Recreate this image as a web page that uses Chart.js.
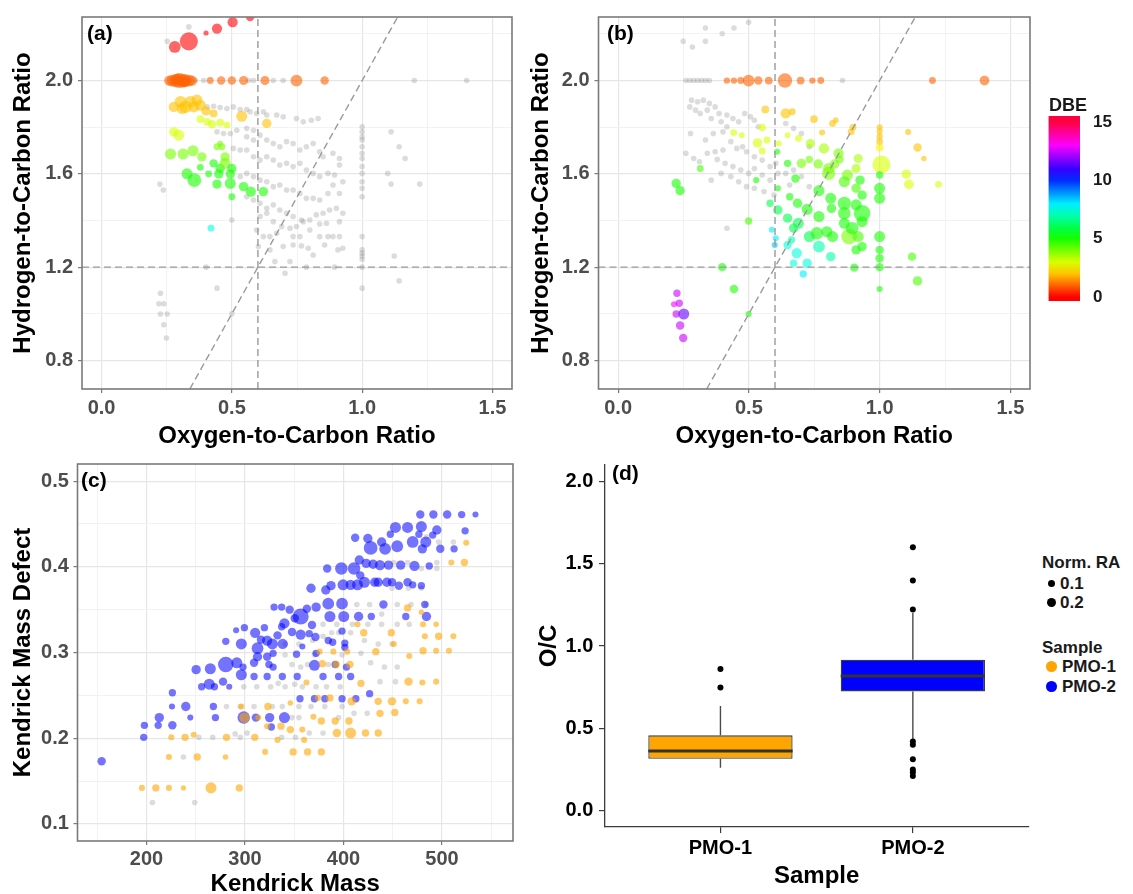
<!DOCTYPE html>
<html>
<head>
<meta charset="utf-8">
<title>Van Krevelen, Kendrick and O/C plots</title>
<script src="https://cdn.jsdelivr.net/npm/chart.js@4.4.1/dist/chart.umd.min.js"></script>
<style>
  html, body { margin: 0; padding: 0; background: #fff; }
  #wrap { position: relative; width: 1133px; height: 894px; overflow: hidden; font-family: "Liberation Sans", Arial, sans-serif; }
  canvas { position: absolute; }
  .tag { position: absolute; font-weight: bold; font-size: 21px; line-height: 1; color: #000; }
  .lg { position: absolute; font-weight: bold; font-size: 17px; line-height: 1; color: #1a1a1a; white-space: nowrap; }
  .key { position: absolute; border-radius: 50%; }
</style>
</head>
<body>
<div id="wrap">
  <canvas id="cA" width="525" height="455" style="left:0;top:0;width:525px;height:455px"></canvas>
  <canvas id="cB" width="520" height="455" style="left:520px;top:0;width:520px;height:455px"></canvas>
  <canvas id="cBar" width="80" height="230" style="left:1040px;top:90px;width:80px;height:230px"></canvas>
  <canvas id="cC" width="525" height="460" style="left:0;top:445px;width:525px;height:460px"></canvas>
  <canvas id="cD" width="515" height="460" style="left:525px;top:445px;width:515px;height:460px"></canvas>

  <div class="tag" style="left:87px;top:22px">(a)</div>
  <div class="tag" style="left:607px;top:22px">(b)</div>
  <div class="tag" style="left:81px;top:469px">(c)</div>
  <div class="tag" style="left:612px;top:462px">(d)</div>

  <div class="lg" style="left:1049px;top:96px;font-size:18px">DBE</div>

  <div class="lg" style="left:1042px;top:554px">Norm. RA</div>
  <div class="key" style="left:1048px;top:579.6px;width:7.4px;height:7.4px;background:#000"></div>
  <div class="lg" style="left:1060px;top:575px">0.1</div>
  <div class="key" style="left:1047px;top:598px;width:9.4px;height:9.4px;background:#000"></div>
  <div class="lg" style="left:1060px;top:594.4px">0.2</div>
  <div class="lg" style="left:1042px;top:639px">Sample</div>
  <div class="key" style="left:1046.4px;top:661.4px;width:10.6px;height:10.6px;background:#FFA500"></div>
  <div class="lg" style="left:1062px;top:658.4px">PMO-1</div>
  <div class="key" style="left:1046.4px;top:681.4px;width:10.6px;height:10.6px;background:#0000FF"></div>
  <div class="lg" style="left:1062px;top:678.4px">PMO-2</div>
</div>

<script>
// ---------------- data ----------------
// Van Krevelen axes
const ocLimits = [-0.075, 1.575];
const hcLimits = [0.6775, 2.2725];
const ocMajor = [0, 0.5, 1.0, 1.5];
const ocMinor = [0.25, 0.75, 1.25];
const hcMajor = [0.8, 1.2, 1.6, 2.0];
const hcMinor = [1.0, 1.4, 1.8, 2.2];
// reference lines: O/C = 0.6, H/C = 1.2, H/C = 2 * O/C
const refOC = 0.6;
const refHC = 1.2;
const refSlope = 2;

// PMO-1 formulas: [O/C, H/C, DBE, normalised relative abundance]
const pmo1Formulas = [
  [0.57,2.272,0,0.15],[0.335,2.168,0,0.9],[0.281,2.144,0,0.35],[0.401,2.204,0,0.02],[0.443,2.223,0,0.25],[0.503,2.25,0,0.25],
  [0.26,2.0,1,0.25],[0.272,2.0,1,0.35],[0.285,2.0,1,0.45],[0.298,2.0,1,0.6],[0.31,2.0,1,0.5],[0.322,2.0,1,0.4],[0.335,2.0,1,0.35],[0.347,2.0,1,0.25],[0.292,2.005,1,0.3],[0.318,1.995,1,0.3],
  [0.417,2.0,1,0.08],[0.459,2.0,1,0.15],[0.5,2.0,1,0.15],[0.545,2.0,1,0.18],[0.627,2.0,1,0.18],[0.748,2.0,1,0.35],[0.856,2.0,1,0.15],
  [0.277,1.887,2,0.25],[0.303,1.909,2,0.35],[0.322,1.887,2,0.4],[0.341,1.909,2,0.35],[0.366,1.916,2,0.3],[0.379,1.894,2,0.3],[0.354,1.887,2,0.3],[0.309,1.88,2,0.3],[0.401,1.87,2,0.2],[0.43,1.859,2,0.12],[0.538,1.847,2,0.3],[0.634,1.816,2,0.2],
  [0.379,1.835,3,0.12],[0.405,1.823,3,0.12],[0.424,1.813,3,0.15],[0.455,1.819,3,0.12],[0.481,1.809,3,0.08],[0.277,1.78,3,0.2],[0.296,1.766,3,0.3],
  [0.265,1.685,4,0.3],[0.313,1.685,4,0.3],[0.351,1.699,4,0.3],[0.385,1.673,4,0.2],[0.443,1.716,4,0.08],[0.462,1.716,4,0.08],[0.455,1.73,4,0.04],[0.474,1.673,4,0.2],
  [0.43,1.645,5,0.15],[0.455,1.623,5,0.2],[0.474,1.645,4,0.3],[0.5,1.623,5,0.2],[0.328,1.6,5,0.3],[0.356,1.573,5,0.5],[0.411,1.6,5,0.08],[0.45,1.6,5,0.2],[0.494,1.6,5,0.2],
  [0.443,1.556,5,0.2],[0.494,1.559,5,0.3],[0.545,1.545,5,0.2],[0.573,1.524,5,0.25],[0.621,1.524,5,0.2],[0.5,1.502,5,0.08],[0.379,1.628,5,0.08],
  [0.42,1.367,7.5,0.08]
];
// PMO-2 formulas shown as background in the PMO-1 plot: [O/C, H/C]
const pmo2Background = [
  [0.36,2],[0.392,2],[0.564,2],[0.583,2],[0.659,2],[0.697,2],[1.2,2],[1.401,2],[0.335,2.23],[0.252,2.168],
  [0.405,1.887],[0.43,1.89],[0.455,1.884],[0.481,1.88],[0.506,1.887],[0.532,1.876],[0.557,1.876],[0.57,1.866],[0.595,1.859],[0.621,1.866],[0.634,1.852],[0.672,1.852],[0.697,1.845],[0.748,1.837],[0.774,1.823],[0.805,1.83],[0.831,1.837],
  [0.443,1.78],[0.468,1.773],[0.494,1.773],[0.519,1.787],[0.557,1.795],[0.583,1.787],[0.557,1.759],[0.583,1.745],[0.608,1.766],[0.634,1.745],[0.659,1.73],[0.684,1.716],[0.71,1.738],[0.735,1.73],[0.761,1.702],[0.786,1.716],[0.812,1.73],[0.837,1.695],[0.85,1.673],[0.888,1.688],[0.913,1.666],
  [0.506,1.709],[0.532,1.702],[0.557,1.702],[0.583,1.673],[0.608,1.659],[0.634,1.673],[0.659,1.659],[0.684,1.638],[0.71,1.645],[0.735,1.631],[0.761,1.645],[0.786,1.616],[0.812,1.602],[0.837,1.588],[0.869,1.602],[0.894,1.595],[0.913,1.638],[0.926,1.566],
  [0.532,1.588],[0.557,1.602],[0.583,1.588],[0.608,1.573],[0.634,1.566],[0.659,1.545],[0.684,1.552],[0.71,1.531],[0.735,1.531],[0.761,1.516],[0.786,1.495],[0.812,1.495],[0.837,1.488],[0.869,1.516],[0.888,1.552],[0.913,1.516],
  [0.557,1.502],[0.583,1.488],[0.608,1.474],[0.634,1.452],[0.659,1.467],[0.684,1.445],[0.71,1.431],[0.735,1.417],[0.767,1.402],[0.799,1.402],[0.824,1.424],[0.85,1.431],[0.875,1.445],[0.901,1.452],[0.926,1.431],[0.913,1.395],
  [0.608,1.417],[0.634,1.431],[0.659,1.395],[0.691,1.374],[0.723,1.367],[0.748,1.374],[0.774,1.395],[0.799,1.359],[0.837,1.385],[0.863,1.388],
  [0.595,1.359],[0.621,1.331],[0.646,1.331],[0.672,1.345],[0.735,1.331],[0.761,1.331],[0.837,1.331],[0.869,1.331],[0.888,1.331],[0.913,1.331],
  [0.602,1.288],[0.646,1.274],[0.697,1.288],[0.735,1.295],[0.767,1.291],[0.793,1.281],[0.812,1.252],[0.856,1.295],[0.907,1.274],[0.926,1.281],
  [0.665,1.224],[0.723,1.224],[0.704,1.174],[0.786,1.2],[0.894,1.2],
  [1,1.802],[1,1.78],[1,1.759],[1,1.745],[1,1.716],[1,1.688],[1,1.666],[1,1.631],[1,1.602],[1,1.566],[1,1.538],[1,1.502],[1,1.331],[1,1.274],[1,1.26],[1,1.248],[1,1.234],[1,1.2],[1,1.11],
  [1.111,1.78],[1.142,1.716],[1.165,1.666],[1.098,1.602],[1.111,1.556],[1.221,1.556],[1.123,1.248],[1.142,1.141],
  [0.224,1.556],[0.237,1.531],[0.226,1.088],[0.22,1.043],[0.239,1.043],[0.226,0.999],[0.252,0.999],[0.239,0.953],[0.249,0.896],
  [0.401,1.2],[0.443,1.11],[0.5,1.0],[0.5,1.402]
];

// PMO-2 formulas: [O/C, H/C, DBE, normalised relative abundance]
const pmo2Formulas = [
  [0.416,2,1,0.06],[0.443,2,1,0.06],[0.469,2,1,0.08],[0.499,2,1,0.35],[0.536,2,1,0.15],[0.576,2,1,0.12],[0.638,2,1,0.55],[0.698,2,1,0.12],[0.743,2,1,0.06],[0.775,2,1,0.08],[1.202,2,1,0.08],[1.401,2,1,0.22],
  [0.563,1.876,2,0.12],[0.641,1.859,2,0.25],[0.666,1.866,2,0.08],[0.749,1.835,2,0.12],[0.82,1.816,2,0.08],[0.832,1.83,2,0.04],[0.898,1.799,2,0.08],[0.891,1.78,2,0.08],[0.78,1.777,2,0.05],
  [1,1.8,2,0.05],[1,1.782,2,0.05],[1,1.76,2,0.06],[1,1.738,2,0.08],[1,1.713,2.5,0.12],[1.109,1.779,2,0.05],[1.145,1.713,2,0.15],[1.169,1.666,2,0.03],
  [0.551,1.799,3,0.1],[0.442,1.777,3,0.08],[0.473,1.766,3,0.04],[0.533,1.733,3,0.2],[0.569,1.745,3,0.08],[0.551,1.698,3,0.08],[0.614,1.73,3,0.05],[0.648,1.766,3,0.04],[0.69,1.752,3,0.08],
  [0.735,1.73,3.5,0.18],[0.787,1.709,3.5,0.25],[0.843,1.688,4,0.25],[0.918,1.666,3.5,0.18],[1.007,1.64,3,0.9],[1.102,1.599,3,0.2],[1.112,1.555,3,0.22],[1.225,1.555,3,0.08],[0.314,1.623,4.5,0.08],[0.91,1.623,3.5,0.18],
  [0.222,1.559,5,0.2],[0.237,1.528,5,0.2],
  [0.608,1.695,5,0.05],[0.611,1.538,5,0.05],[0.648,1.645,5,0.1],[0.678,1.58,5,0.15],[0.701,1.645,4,0.2],[0.731,1.662,4,0.1],[0.765,1.642,4,0.2],[0.805,1.602,4,0.45],[0.805,1.623,4,0.3],[0.828,1.642,4,0.2],[0.847,1.662,4,0.15],
  [0.877,1.595,4,0.3],[0.865,1.566,4.5,0.3],[0.91,1.538,4.5,0.2],[0.925,1.573,5,0.2],[0.933,1.509,5,0.2],[1,1.538,5,0.3],[1,1.495,5,0.3],[1,1.595,5,0.1],
  [0.768,1.528,5,0.3],[0.813,1.495,5,0.3],[0.865,1.474,5,0.45],[0.91,1.467,5,0.3],[0.933,1.431,5,0.75],[0.865,1.431,5,0.4],[0.816,1.452,5,0.2],[0.768,1.417,5,0.3],[0.723,1.448,5,0.3],[0.686,1.474,5,0.2],[0.656,1.502,5,0.1],
  [0.581,1.474,6,0.1],[0.611,1.445,6,0.2],[0.648,1.41,6,0.2],[0.689,1.388,6,0.3],[0.671,1.367,6,0.2],[0.731,1.331,6,0.3],[0.76,1.345,5,0.4],[0.798,1.352,5,0.3],[0.82,1.331,5,0.3],[0.883,1.331,4,0.65],[0.918,1.331,4.5,0.3],
  [0.865,1.388,5,0.3],[0.895,1.367,5,0.4],[0.933,1.395,5,0.3],[1,1.331,5,0.3],[1,1.274,5,0.15],[1,1.238,5,0.15],[1,1.2,5,0.15],[0.903,1.198,5,0.15],[0.91,1.274,5,0.2],[0.933,1.288,5,0.2],
  [1.124,1.245,4.5,0.15],[1.145,1.141,4.5,0.2],[1,1.106,5,0.05],[0.499,1.398,4.5,0.1],[0.398,1.2,5,0.15],[0.443,1.106,5,0.15],[0.499,0.999,5,0.05],[0.528,1.573,5,0.05],
  [0.588,1.36,8,0.05],[0.599,1.295,8.5,0.05],[0.648,1.295,7.5,0.15],[0.663,1.317,7,0.1],[0.683,1.26,7.5,0.25],[0.723,1.217,7.5,0.2],[0.708,1.171,8,0.1],[0.671,1.217,7.5,0.1],[0.768,1.288,7,0.35],[0.813,1.245,7,0.2],[0.603,1.324,8,0.05],
  [0.225,1.088,12.5,0.1],[0.214,1.041,13,0.05],[0.234,1.045,12.5,0.1],[0.222,0.999,12.5,0.1],[0.251,0.999,11.5,0.3],[0.237,0.95,12.5,0.15],[0.249,0.896,12.5,0.15]
];
// PMO-1 formulas shown as background in the PMO-2 plot: [O/C, H/C]
const pmo1Background = [
  [0.334,2.225],[0.398,2.201],[0.443,2.225],[0.499,2.25],[0.249,2.168],[0.284,2.144],[0.334,2.168],
  [0.259,2],[0.274,2],[0.289,2],[0.304,2],[0.319,2],[0.334,2],[0.349,2],[0.858,2],
  [0.281,1.916],[0.304,1.909],[0.326,1.916],[0.349,1.902],[0.371,1.887],[0.274,1.887],[0.296,1.873],[0.341,1.873],[0.314,1.859],[0.356,1.837],[0.386,1.859],[0.394,1.823],[0.416,1.852],[0.416,1.802],[0.439,1.837],[0.461,1.823],[0.484,1.859],[0.506,1.845],[0.521,1.83],[0.536,1.802],
  [0.277,1.773],[0.334,1.745],[0.364,1.773],[0.401,1.78],[0.431,1.738],[0.454,1.709],[0.476,1.716],[0.491,1.695],[0.521,1.673],[0.551,1.659],[0.581,1.631],[0.603,1.645],[0.641,1.602],[0.671,1.616],[0.701,1.588],[0.731,1.545],
  [0.259,1.688],[0.289,1.666],[0.311,1.652],[0.341,1.688],[0.371,1.695],[0.401,1.702],[0.379,1.662],[0.409,1.645],[0.439,1.631],[0.469,1.616],[0.499,1.602],[0.521,1.623],[0.551,1.595],[0.581,1.573],[0.611,1.602],
  [0.356,1.573],[0.394,1.602],[0.431,1.588],[0.461,1.566],[0.491,1.545],[0.521,1.538],[0.558,1.524],[0.596,1.509],[0.656,1.552],
  [0.416,1.367],[0.641,1.816],[0.671,1.795],[0.701,1.773],[0.731,1.716]
];

// DBE colour bar
const dbeLimits = [-0.34, 15.51];
const dbeTicks = [0, 5, 10, 15];

// Kendrick plot
const kmLimits = [130, 572];
const kmdLimits = [0.08, 0.52];
const kmMajor = [200, 300, 400, 500];
const kmMinor = [150, 250, 350, 450, 550];
const kmdMajor = [0.1, 0.2, 0.3, 0.4, 0.5];
const kmdMinor = [0.15, 0.25, 0.35, 0.45];
// [Kendrick mass, Kendrick mass defect, normalised relative abundance]
const kendrickPmo2 = [
  [154.5,0.173,0.15],[197.2,0.201,0.1],[197.9,0.215,0.1],[211.9,0.215,0.1],[213.0,0.224,0.2],[226.3,0.215,0.15],[225.9,0.237,0.05],[226.3,0.253,0.1],[239.9,0.237,0.2],[244.5,0.224,0.05],
  [250.4,0.280,0.2],[256.0,0.260,0.1],[263.7,0.263,0.3],[264.8,0.281,0.3],[269.0,0.260,0.1],[267.9,0.237,0.1],[270.0,0.224,0.1],[277.7,0.266,0.15],[280.5,0.313,0.1],[280.5,0.286,0.65],
  [284.0,0.260,0.05],[291.0,0.326,0.05],[291.7,0.288,0.3],[296.3,0.310,0.3],[296.3,0.274,0.3],[298.0,0.283,0.1],[298.7,0.224,0.4],[299.4,0.329,0.1],[309.2,0.272,0.1],[309.2,0.288,0.15],
  [310.3,0.323,0.25],[311.0,0.224,0.15],[312.7,0.305,0.35],[312.7,0.295,0.2],[316.2,0.315,0.15],[319.7,0.329,0.1],[322.5,0.314,0.25],[322.5,0.295,0.15],[322.5,0.272,0.1],[324.3,0.286,0.1],
  [325.0,0.224,0.2],[326.7,0.213,0.1],[327.8,0.310,0.3],[328.5,0.299,0.1],[328.5,0.283,0.1],[329.5,0.353,0.1],[333.0,0.320,0.15],[337.2,0.353,0.1],[337.2,0.330,0.1],[337.9,0.272,0.1],
  [338.3,0.310,0.25],[340.0,0.224,0.3],[340.0,0.334,0.25],[345.3,0.350,0.15],[347.7,0.324,0.15],[350.5,0.340,0.15],[352.3,0.298,0.1],[353.0,0.272,0.1],[355.8,0.246,0.1],[356.5,0.342,0.7],
  [356.5,0.321,0.25],[358.2,0.307,0.05],[362.8,0.351,0.15],[365.2,0.322,0.1],[367.0,0.375,0.2],[368.0,0.332,0.15],[370.5,0.285,0.3],[370.5,0.246,0.1],[371.5,0.318,0.15],[372.2,0.353,0.2],
  [372.2,0.299,0.1],[379.2,0.272,0.1],[381.0,0.246,0.1],[382.0,0.373,0.2],[383.4,0.398,0.15],[384.5,0.357,0.35],[384.5,0.314,0.1],[386.2,0.342,0.3],[387.3,0.378,0.2],[389.0,0.312,0.1],
  [391.5,0.286,0.1],[395.0,0.272,0.1],[397.8,0.398,0.4],[398.5,0.357,0.35],[398.5,0.325,0.1],[398.5,0.246,0.1],[399.5,0.379,0.3],[400.2,0.342,0.3],[401.3,0.311,0.1],[401.3,0.306,0.1],
  [403.0,0.283,0.1],[407.2,0.272,0.1],[407.2,0.379,0.25],[410.7,0.398,0.4],[411.8,0.434,0.15],[412.5,0.246,0.1],[415.3,0.342,0.2],[414.2,0.379,0.3],[416.0,0.408,0.2],[417.0,0.390,0.15],
  [421.2,0.382,0.3],[423.0,0.404,0.2],[424.7,0.433,0.2],[426.5,0.252,0.1],[427.5,0.422,0.5],[428.2,0.342,0.1],[430.0,0.403,0.2],[431.7,0.382,0.2],[435.2,0.382,0.2],[437.0,0.402,0.25],
  [440.5,0.356,0.15],[438.7,0.429,0.2],[442.2,0.421,0.35],[444.0,0.382,0.2],[445.7,0.402,0.2],[447.5,0.438,0.1],[449.2,0.382,0.15],[452.7,0.446,0.3],[454.5,0.424,0.35],[456.2,0.378,0.15],
  [458.0,0.402,0.2],[463.2,0.342,0.1],[465.0,0.382,0.15],[465.0,0.446,0.3],[470.2,0.429,0.35],[470.2,0.379,0.1],[472.0,0.401,0.25],[476.5,0.438,0.1],[479.0,0.447,0.3],[479.0,0.378,0.1],
  [480.0,0.421,0.2],[482.5,0.356,0.1],[483.5,0.429,0.3],[484.2,0.342,0.2],[487.0,0.401,0.1],[490.5,0.437,0.1],[491.2,0.461,0.15],[494.7,0.443,0.2],[498.2,0.421,0.15],[505.2,0.461,0.15],
  [512.2,0.421,0.1],[519.9,0.461,0.1],[523.4,0.442,0.1],[533.9,0.461,0.05],[477.9,0.461,0.15]
];
const kendrickPmo1 = [
  [195.4,0.142,0.05],[209.5,0.142,0.1],[222.8,0.142,0.05],[237.5,0.142,0.02],[265.5,0.142,0.3],[294.2,0.142,0.1],[222.8,0.178,0.05],[251.5,0.178,0.1],[280.2,0.178,0.03],[225.2,0.201,0.05],
  [239.2,0.201,0.1],[248.0,0.204,0.05],[281.2,0.201,0.1],[296.3,0.237,0.05],[299.4,0.224,0.25],[309.9,0.201,0.1],[313.4,0.224,0.05],[320.4,0.184,0.05],[323.2,0.237,0.1],[322.5,0.214,0.05],
  [333.0,0.198,0.05],[336.5,0.214,0.1],[346.0,0.241,0.03],[346.0,0.210,0.1],[348.8,0.184,0.1],[358.2,0.210,0.05],[360.0,0.198,0.05],[362.4,0.265,0.05],[363.5,0.184,0.1],[369.4,0.225,0.05],
  [374.0,0.247,0.05],[375.7,0.301,0.05],[377.5,0.220,0.1],[377.5,0.184,0.1],[378.5,0.287,0.1],[386.2,0.247,0.1],[389.7,0.301,0.05],[391.5,0.220,0.1],[392.5,0.286,0.1],[393.2,0.206,0.15],
  [403.7,0.301,0.05],[405.5,0.220,0.1],[406.5,0.286,0.1],[407.2,0.206,0.3],[408.3,0.243,0.15],[414.2,0.333,0.05],[417.7,0.264,0.1],[420.5,0.323,0.1],[422.3,0.206,0.1],[432.8,0.301,0.1],
  [435.2,0.243,0.1],[435.2,0.206,0.1],[437.0,0.229,0.1],[448.5,0.323,0.1],[449.2,0.243,0.15],[451.0,0.310,0.05],[452.0,0.230,0.1],[463.2,0.243,0.05],[465.0,0.352,0.1],[466.0,0.266,0.15],
  [466.7,0.296,0.05],[477.2,0.243,0.05],[479.0,0.347,0.03],[480.0,0.265,0.05],[480.7,0.333,0.05],[480.7,0.302,0.1],[482.5,0.319,0.05],[494.0,0.333,0.03],[494.0,0.302,0.05],[494.0,0.266,0.05],
  [496.5,0.319,0.1],[507.0,0.302,0.05],[509.4,0.405,0.05],[511.5,0.319,0.05],[522.7,0.405,0.1],[524.5,0.428,0.05]
];
// formulas common to both samples: [Kendrick mass, Kendrick mass defect]
const kendrickShared = [
  [206,0.125],[249,0.125],[237.5,0.178],[253.2,0.201],[267.2,0.201],[290,0.205],[295.2,0.201],[302.2,0.206],[281.2,0.237],[295.2,0.237],[309.2,0.237],[327.8,0.237],[337.9,0.237],
  [337.2,0.201],[351.2,0.201],[347.7,0.224],[354.7,0.224],[365.2,0.206],[379.2,0.206],[354.7,0.237],[367,0.237],[381,0.237],[395,0.224],[398.5,0.237],[410.7,0.229],[424,0.229],
  [298.7,0.26],[312,0.26],[326,0.26],[333.7,0.264],[340.7,0.26],[350.5,0.263],[358.2,0.26],[372.2,0.26],[382.7,0.26],[396.7,0.26],[437,0.266],[452.7,0.266],
  [340.7,0.297],[347.7,0.286],[356.5,0.283],[363.5,0.286],[370.5,0.297],[384.5,0.286],[398.5,0.297],[417.7,0.299],[427.5,0.288],[441.5,0.283],[454.5,0.283],
  [340.7,0.31],[354.7,0.31],[368.7,0.314],[379.2,0.319],[388,0.323],[395,0.323],[407.2,0.323],[421.2,0.314],[435.2,0.31],[449.2,0.31],
  [379.2,0.333],[393.2,0.333],[409,0.333],[424.7,0.333],[438.7,0.333],[454.5,0.333],[466.7,0.333],
  [413.5,0.356],[426.5,0.356],[438.7,0.345],[454.5,0.356],[468.5,0.356],[484.2,0.356],[449.2,0.375],[466,0.375],[479,0.375],
  [451,0.405],[465,0.405],[479,0.398],[494.7,0.405],[494.7,0.398],[496.5,0.429],[511.5,0.429],[484.2,0.435]
];

// O/C box plot summary
const boxSamples = ['PMO-1', 'PMO-2'];
const boxLower = [0.26, 0.433];
const boxQ1 = [0.315, 0.724];
const boxMedian = [0.362, 0.817];
const boxQ3 = [0.457, 0.917];
const boxUpper = [0.636, 1.20];
const boxOutliers = [[0.86, 0.748], [1.60, 1.398, 1.222, 0.419, 0.40, 0.311, 0.25, 0.232, 0.21]];
const boxFills = ['#FFA500', '#0000FF'];
const ocBoxLimits = [-0.1, 2.1];
const ocBoxTicks = [0, 0.5, 1.0, 1.5, 2.0];

// ---------------- styling helpers ----------------
Chart.defaults.font.family = '"Liberation Sans", Arial, sans-serif';
Chart.defaults.animation = false;
Chart.defaults.events = [];
Chart.defaults.plugins.legend.display = false;
Chart.defaults.plugins.tooltip.enabled = false;

const POINT_ALPHA = 0.6;
const GREY_POINT = 'rgba(128,128,128,0.28)';
const GREY_RADIUS = 2.8;
const MAJOR_GRID = '#E6E6E6';
const MINOR_GRID = '#F0F0F0';
const FRAME = '#7a7a7a';
const TICK_TEXT = '#4d4d4d';
const BOX_WIDTH = 0.75;

const dbeColor = (d, a) => `hsla(${d * 23},100%,50%,${a})`;
const raRadius = ra => Math.sqrt(5 + 85 * ra);

// outline of the plotting panel
const panelFrame = {
  id: 'panelFrame',
  afterDatasetsDraw(chart) {
    const { ctx, chartArea: a } = chart;
    ctx.save();
    ctx.strokeStyle = FRAME;
    ctx.lineWidth = 1.6;
    ctx.strokeRect(a.left, a.top, a.right - a.left, a.bottom - a.top);
    ctx.restore();
  }
};

function gridAxis(o) {
  const majors = new Set(o.major);
  const all = o.major.concat(o.minor || []).sort((p, q) => p - q);
  const vertical = o.position === 'left' || o.position === 'right';
  const isMajor = c => c.tick && majors.has(c.tick.value);
  return {
    type: 'linear',
    position: o.position,
    min: o.limits[0],
    max: o.limits[1],
    offset: false,
    afterBuildTicks: s => { s.ticks = all.map(v => ({ value: v })); },
    afterFit: s => { if (vertical) s.width = o.size; else s.height = o.size; },
    grid: {
      display: true,
      offset: false,
      drawOnChartArea: o.gridLines !== false,
      color: c => isMajor(c) ? MAJOR_GRID : MINOR_GRID,
      lineWidth: c => isMajor(c) ? 1.2 : 0.9,
      drawTicks: true,
      tickLength: o.tickLength,
      tickWidth: 1.2,
      tickColor: c => isMajor(c) ? (o.tickColor || FRAME) : 'rgba(0,0,0,0)'
    },
    border: o.axisLine ? { display: true, color: o.axisLine, width: 1.3 } : { display: false },
    ticks: {
      autoSkip: false,
      maxRotation: 0,
      minRotation: 0,
      padding: o.pad,
      color: o.textColor || TICK_TEXT,
      font: { size: 20, weight: 'bold' },
      callback: v => majors.has(v) ? o.fmt(v) : ''
    },
    title: {
      display: true,
      text: o.title,
      color: '#000',
      font: { size: 24, weight: 'bold' },
      padding: { top: 0, bottom: o.titlePad || 0 }
    }
  };
}

const fmt1 = v => v.toFixed(1);

function vanKrevelen(canvasId, formulas, background, layout) {
  const refLines = [
    [{ x: ocLimits[0], y: refHC }, { x: ocLimits[1], y: refHC }],
    [{ x: refOC, y: hcLimits[0] }, { x: refOC, y: hcLimits[1] }],
    [{ x: hcLimits[0] / refSlope, y: hcLimits[0] }, { x: hcLimits[1] / refSlope, y: hcLimits[1] }]
  ];
  return new Chart(document.getElementById(canvasId), {
    type: 'scatter',
    data: {
      datasets: [
        ...refLines.map(pts => ({
          type: 'line', data: pts, showLine: true, borderColor: '#9a9a9a', borderWidth: 1.4,
          borderDash: [7, 4], pointRadius: 0, fill: false, order: 0, clip: 0
        })),
        {
          data: formulas.map(r => ({ x: r[0], y: r[1], dbe: r[2], ra: r[3] })),
          pointBackgroundColor: c => c.raw ? dbeColor(c.raw.dbe, POINT_ALPHA) : 'transparent',
          pointRadius: c => c.raw ? raRadius(c.raw.ra) : 3,
          pointBorderWidth: 0, order: 1, clip: 0
        },
        {
          data: background.map(r => ({ x: r[0], y: r[1] })),
          pointBackgroundColor: GREY_POINT, pointRadius: GREY_RADIUS, pointBorderWidth: 0, order: 2, clip: 0
        }
      ]
    },
    options: {
      responsive: false,
      devicePixelRatio: 1,
      layout: { autoPadding: false, padding: layout.padding },
      scales: {
        x: gridAxis({ position: 'bottom', limits: ocLimits, major: ocMajor, minor: ocMinor, fmt: fmt1,
          size: layout.xSize, tickLength: 4, pad: 3, title: 'Oxygen-to-Carbon Ratio', titlePad: layout.xTitlePad }),
        y: gridAxis({ position: 'left', limits: hcLimits, major: hcMajor, minor: hcMinor, fmt: fmt1,
          size: layout.ySize, tickLength: 4, pad: 5, title: 'Hydrogen-to-Carbon Ratio' })
      }
    },
    plugins: [panelFrame]
  });
}

// (a) PMO-1 and (b) PMO-2 van Krevelen diagrams
vanKrevelen('cA', pmo1Formulas, pmo2Background,
  { padding: { left: 8.6, top: 16, right: 13, bottom: 0 }, ySize: 73.4, xSize: 66, xTitlePad: 4.6 });
vanKrevelen('cB', pmo2Formulas, pmo1Background,
  { padding: { left: 7.1, top: 16, right: 10, bottom: 0 }, ySize: 71.4, xSize: 66, xTitlePad: 4.6 });

// DBE colour bar
new Chart(document.getElementById('cBar'), {
  type: 'bar',
  data: {
    labels: ['DBE'],
    datasets: [{
      data: [dbeLimits],
      barPercentage: 1,
      categoryPercentage: 1,
      borderWidth: 0,
      backgroundColor: c => {
        const ch = c.chart, sc = ch.scales.y;
        if (!sc || !ch.chartArea) return dbeColor(0, 1);
        const g = ch.ctx.createLinearGradient(0, sc.getPixelForValue(0), 0, sc.getPixelForValue(15));
        for (let d = 0; d <= 15; d++) g.addColorStop(d / 15, dbeColor(d, 1));
        return g;
      }
    }]
  },
  options: {
    responsive: false,
    devicePixelRatio: 1,
    layout: { autoPadding: false, padding: { left: 8.5, top: 26, right: 0, bottom: 19 } },
    scales: {
      x: { display: false },
      y: {
        position: 'right', min: dbeLimits[0], max: dbeLimits[1],
        afterBuildTicks: s => { s.ticks = dbeTicks.map(v => ({ value: v })); },
        afterFit: s => { s.width = 40; },
        grid: { display: false },
        border: { display: false },
        ticks: { padding: 5, color: '#1a1a1a', font: { size: 17, weight: 'bold' }, callback: v => String(v) }
      }
    }
  }
});

// (c) Kendrick mass defect plot
new Chart(document.getElementById('cC'), {
  type: 'scatter',
  data: {
    datasets: [
      {
        data: kendrickPmo1.map(r => ({ x: r[0], y: r[1], ra: r[2] })),
        pointBackgroundColor: 'rgba(255,165,0,0.6)',
        pointRadius: c => c.raw ? raRadius(c.raw.ra) : 3,
        pointBorderWidth: 0, order: 1, clip: 0
      },
      {
        data: kendrickPmo2.map(r => ({ x: r[0], y: r[1], ra: r[2] })),
        pointBackgroundColor: 'rgba(0,0,255,0.55)',
        pointRadius: c => c.raw ? raRadius(c.raw.ra) : 3,
        pointBorderWidth: 0, order: 2, clip: 0
      },
      {
        data: kendrickShared.map(r => ({ x: r[0], y: r[1] })),
        pointBackgroundColor: GREY_POINT, pointRadius: GREY_RADIUS, pointBorderWidth: 0, order: 3, clip: 0
      }
    ]
  },
  options: {
    responsive: false,
    devicePixelRatio: 1,
    layout: { autoPadding: false, padding: { left: 8.8, top: 19, right: 12, bottom: 0 } },
    scales: {
      x: gridAxis({ position: 'bottom', limits: kmLimits, major: kmMajor, minor: kmMinor, fmt: v => String(v),
        size: 64, tickLength: 4, pad: 2.5, title: 'Kendrick Mass', titlePad: 6.6 }),
      y: gridAxis({ position: 'left', limits: kmdLimits, major: kmdMajor, minor: kmdMinor, fmt: fmt1,
        size: 68.7, tickLength: 4, pad: 4.6, title: 'Kendrick Mass Defect' })
    }
  },
  plugins: [panelFrame]
});

// (d) O/C box plot
const half = BOX_WIDTH / 2;
const whiskerPts = [], medianPts = [], outlierPts = [];
boxSamples.forEach((s, i) => {
  const x = i + 1;
  whiskerPts.push({ x, y: boxQ3[i] }, { x, y: boxUpper[i] }, { x: x + 0.5, y: null },
                  { x, y: boxQ1[i] }, { x, y: boxLower[i] }, { x: x + 0.5, y: null });
  medianPts.push({ x: x - half, y: boxMedian[i] }, { x: x + half, y: boxMedian[i] }, { x: x + 0.5, y: null });
  boxOutliers[i].forEach(v => outlierPts.push({ x, y: v }));
});

new Chart(document.getElementById('cD'), {
  type: 'bar',
  data: {
    datasets: [
      {
        type: 'bar',
        data: boxSamples.map((s, i) => ({ x: i + 1, y: [boxQ1[i], boxQ3[i]] })),
        backgroundColor: boxFills,
        borderColor: '#3c3c3c',
        borderWidth: 1.3,
        borderSkipped: false,
        barPercentage: BOX_WIDTH,
        categoryPercentage: 1,
        order: 1
      },
      { type: 'line', data: whiskerPts, borderColor: '#4a4a4a', borderWidth: 1.4, pointRadius: 0, spanGaps: false, order: 2 },
      { type: 'line', data: medianPts, borderColor: '#333333', borderWidth: 3, pointRadius: 0, spanGaps: false, order: 0 },
      { type: 'scatter', data: outlierPts, pointBackgroundColor: '#000', pointRadius: 3, pointBorderWidth: 0, order: 0 }
    ]
  },
  options: {
    responsive: false,
    devicePixelRatio: 1,
    layout: { autoPadding: false, padding: { left: 9.6, top: 20, right: 11.7, bottom: 0 } },
    scales: {
      x: gridAxis({ position: 'bottom', limits: [0.4, 2.6], major: [1, 2], minor: [], fmt: v => boxSamples[v - 1],
        size: 78, tickLength: 6, pad: 3.3, title: 'Sample', titlePad: 13.9, gridLines: false,
        axisLine: '#3c3c3c', tickColor: '#3c3c3c', textColor: '#000' }),
      y: gridAxis({ position: 'left', limits: ocBoxLimits, major: ocBoxTicks, minor: [], fmt: fmt1,
        size: 70.4, tickLength: 6, pad: 5.7, title: 'O/C', gridLines: false,
        axisLine: '#3c3c3c', tickColor: '#3c3c3c', textColor: '#000' })
    }
  }
});
</script>
</body>
</html>
